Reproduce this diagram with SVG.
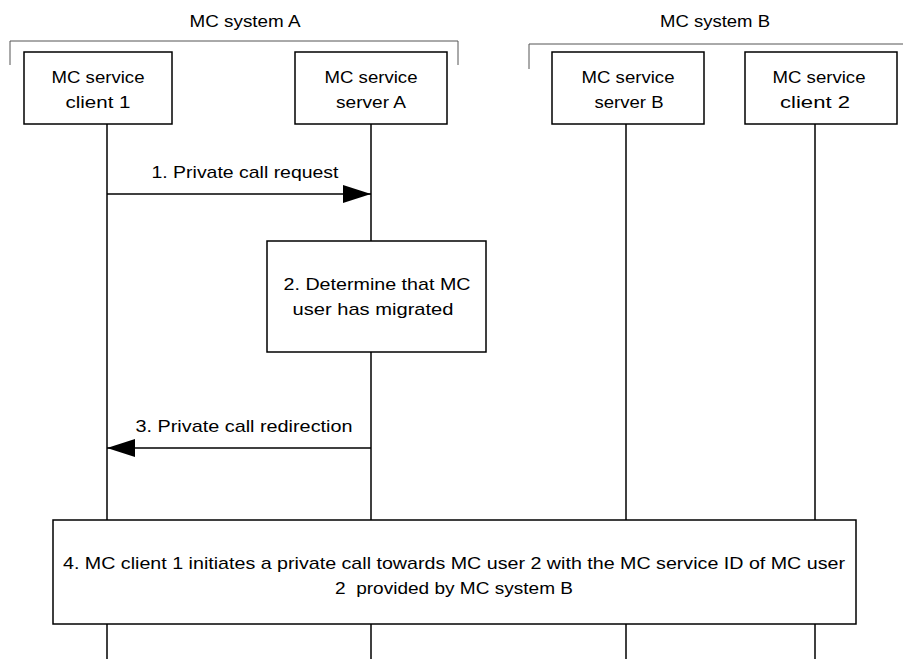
<svg xmlns="http://www.w3.org/2000/svg" width="903" height="659" viewBox="0 0 903 659">
<style>
text{font-family:"Liberation Sans","Open Sans",sans-serif;font-size:17px;fill:#000;text-anchor:middle}
.box{fill:#fff;stroke:#000;stroke-width:1.5}
.life{stroke:#000;stroke-width:1.5}
.msg{stroke:#000;stroke-width:1.5;fill:none}
.br{stroke:#555;stroke-width:1;fill:none}
</style>
<defs>
<marker id="ah" viewBox="0 0 28 18" refX="28" refY="9" markerWidth="28" markerHeight="18" markerUnits="userSpaceOnUse" orient="auto">
<path d="M0,0 L28,9 L0,18 z" fill="#000"/>
</marker>
</defs>
<g id="system-a">
<path class="br" d="M10,65 V41 H458 V65"/>
<text x="245" y="27" textLength="111" lengthAdjust="spacingAndGlyphs">MC system A</text>
</g>
<g id="system-b">
<path class="br" d="M529,69 V44 H903"/>
<text x="715" y="27" textLength="110" lengthAdjust="spacingAndGlyphs">MC system B</text>
</g>
<g id="lifelines">
<line class="life" x1="107" y1="124" x2="107" y2="659"/>
<line class="life" x1="371" y1="124" x2="371" y2="659"/>
<line class="life" x1="626" y1="124" x2="626" y2="659"/>
<line class="life" x1="815" y1="124" x2="815" y2="659"/>
</g>
<g id="client1">
<rect class="box" x="24" y="52" width="148" height="72"/>
<text x="98" y="83" textLength="93" lengthAdjust="spacingAndGlyphs">MC service</text>
<text x="98" y="108" textLength="65" lengthAdjust="spacingAndGlyphs">client 1</text>
</g>
<g id="serverA">
<rect class="box" x="295" y="52" width="152" height="72"/>
<text x="371" y="83" textLength="93" lengthAdjust="spacingAndGlyphs">MC service</text>
<text x="371" y="108" textLength="70" lengthAdjust="spacingAndGlyphs">server A</text>
</g>
<g id="serverB">
<rect class="box" x="552" y="52" width="152" height="72"/>
<text x="628" y="83" textLength="93" lengthAdjust="spacingAndGlyphs">MC service</text>
<text x="629" y="108" textLength="69" lengthAdjust="spacingAndGlyphs">server B</text>
</g>
<g id="client2">
<rect class="box" x="745" y="52" width="152" height="72"/>
<text x="819" y="83" textLength="93" lengthAdjust="spacingAndGlyphs">MC service</text>
<text x="815" y="108" textLength="70" lengthAdjust="spacingAndGlyphs">client 2</text>
</g>
<g id="connectors">
<line class="msg" x1="107" y1="194" x2="371" y2="194" marker-end="url(#ah)"/>
<text x="245" y="178" textLength="187" lengthAdjust="spacingAndGlyphs">1. Private call request</text>
<line class="msg" x1="371" y1="448" x2="107" y2="448" marker-end="url(#ah)"/>
<text x="244" y="432" textLength="217" lengthAdjust="spacingAndGlyphs">3. Private call redirection</text>
</g>
<g id="step2">
<rect class="box" x="267" y="241" width="219" height="111"/>
<text x="377" y="290" textLength="187" lengthAdjust="spacingAndGlyphs">2. Determine that MC</text>
<text x="373" y="315" textLength="161" lengthAdjust="spacingAndGlyphs">user has migrated</text>
</g>
<g id="step4">
<rect class="box" x="53" y="520" width="803" height="104"/>
<text x="454" y="569" textLength="782" lengthAdjust="spacingAndGlyphs">4. MC client 1 initiates a private call towards MC user 2 with the MC service ID of MC user</text>
<text x="454" y="594" textLength="238" lengthAdjust="spacingAndGlyphs">2&#160; provided by MC system B</text>
</g>
</svg>
